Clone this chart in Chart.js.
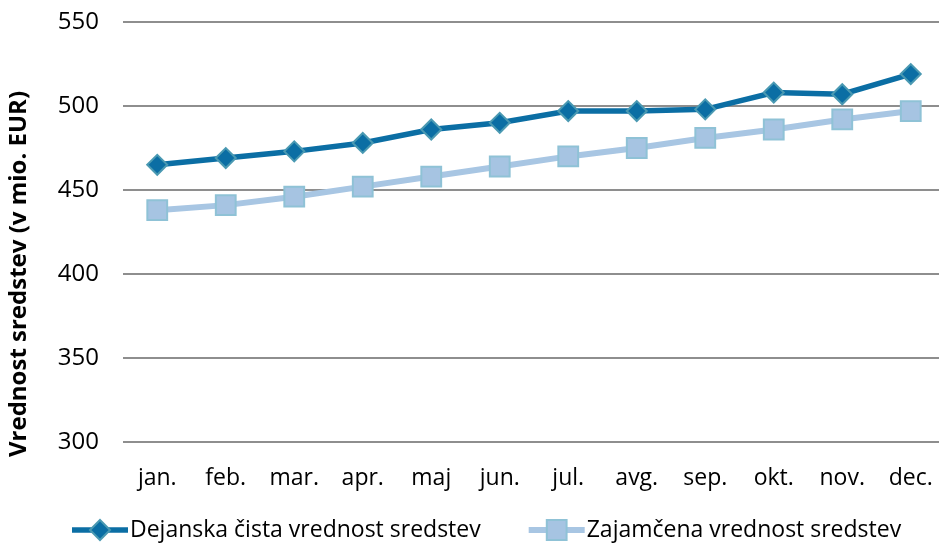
<!DOCTYPE html>
<html>
<head>
<meta charset="utf-8">
<script src="https://cdn.jsdelivr.net/npm/chart.js@4"></script>
<style>
  html, body { margin: 0; padding: 0; background: #fff; overflow: hidden; }
  .chart { width: 945px; height: 544px; }
</style>
</head>
<body>
<div class="chart"><canvas id="c"></canvas></div>
<script>
const months = ['jan.', 'feb.', 'mar.', 'apr.', 'maj', 'jun.', 'jul.', 'avg.', 'sep.', 'okt.', 'nov.', 'dec.'];
const actualValues = [465, 469, 473, 478, 486, 490, 497, 497, 498, 508, 507, 519];
const guaranteedValues = [438, 441, 446, 452, 458, 464, 470, 475, 481, 486, 492, 497];
const yTicks = [300, 350, 400, 450, 500, 550];
const seriesNames = ['Dejanska čista vrednost sredstev', 'Zajamčena vrednost sredstev'];
const axisTitle = 'Vrednost sredstev (v mio. EUR)';

const FONT = "'Open Sans', sans-serif";

// y title + legend (line with marker), drawn on the canvas
const extras = {
  id: 'extras',
  afterDraw: (chart) => {
    const ctx = chart.ctx;
    ctx.save();
    ctx.fillStyle = '#000';
    ctx.font = 'bold 24px ' + FONT;
    ctx.textAlign = 'center';
    ctx.textBaseline = 'middle';
    ctx.translate(19, 274);
    ctx.rotate(-Math.PI / 2);
    ctx.fillText(axisTitle, 0, 0);
    ctx.restore();

    ctx.save();
    ctx.font = '23px ' + FONT;
    ctx.textBaseline = 'middle';
    const y = 530;
    let x = 72;
    chart.data.datasets.forEach((ds) => {
      ctx.strokeStyle = ds.borderColor;
      ctx.lineWidth = ds.borderWidth;
      ctx.beginPath();
      ctx.moveTo(x, y);
      ctx.lineTo(x + 56, y);
      ctx.stroke();
      ctx.fillStyle = ds.pointBackgroundColor;
      ctx.strokeStyle = ds.pointBorderColor;
      ctx.lineWidth = ds.pointBorderWidth;
      ctx.beginPath();
      if (ds.pointStyle === 'rectRot') {
        const r = ds.pointRadius;
        ctx.moveTo(x + 28, y - r); ctx.lineTo(x + 28 + r, y);
        ctx.lineTo(x + 28, y + r); ctx.lineTo(x + 28 - r, y);
      } else {
        const s = ds.pointRadius * Math.SQRT1_2;
        ctx.rect(x + 28 - s, y - s, 2 * s, 2 * s);
      }
      ctx.closePath();
      ctx.fill();
      ctx.stroke();
      ctx.fillStyle = '#000';
      ctx.fillText(ds.label, x + 58, y);
      x += 58 + ctx.measureText(ds.label).width + 48;
    });
    ctx.restore();
  }
};

new Chart(document.getElementById('c'), {
  type: 'line',
  data: {
    labels: months,
    datasets: [{
      label: seriesNames[0],
      data: actualValues,
      borderColor: '#0b6ea4',
      borderWidth: 5.5,
      pointStyle: 'rectRot',
      pointRadius: 10,
      pointBackgroundColor: '#0b6ea4',
      pointBorderColor: '#4a99b2',
      pointBorderWidth: 2,
      tension: 0
    }, {
      label: seriesNames[1],
      data: guaranteedValues,
      borderColor: '#a8c6e3',
      borderWidth: 6,
      pointStyle: 'rect',
      pointRadius: 14,
      pointBackgroundColor: '#a6c4e2',
      pointBorderColor: '#8fc2d6',
      pointBorderWidth: 2,
      tension: 0
    }]
  },
  options: {
    responsive: true,
    maintainAspectRatio: false,
    animation: false,
    layout: { autoPadding: false, padding: { top: 22, bottom: 40, left: 0, right: 0 } },
    scales: {
      x: {
        offset: true,
        border: { display: false },
        grid: { display: false, drawTicks: false },
        ticks: { color: '#000', font: { family: FONT, size: 23 }, padding: 23, maxRotation: 0, autoSkip: false },
        afterFit: (scale) => {
          scale.height = 62;
          scale.paddingLeft = 0;
          scale.paddingRight = 0;
        }
      },
      y: {
        min: 300,
        max: 550,
        border: { display: false },
        grid: { color: '#8e8e8e', lineWidth: 2, drawTicks: false },
        afterBuildTicks: (scale) => { scale.ticks = yTicks.map(v => ({ value: v })); },
        ticks: { color: '#000', font: { family: FONT, size: 24 }, padding: 24 },
        afterFit: (scale) => {
          scale.width = 123;
          scale.paddingTop = 0;
          scale.paddingBottom = 0;
        }
      }
    },
    plugins: {
      legend: { display: false },
      tooltip: { enabled: false }
    }
  },
  plugins: [extras]
});
</script>
</body>
</html>
